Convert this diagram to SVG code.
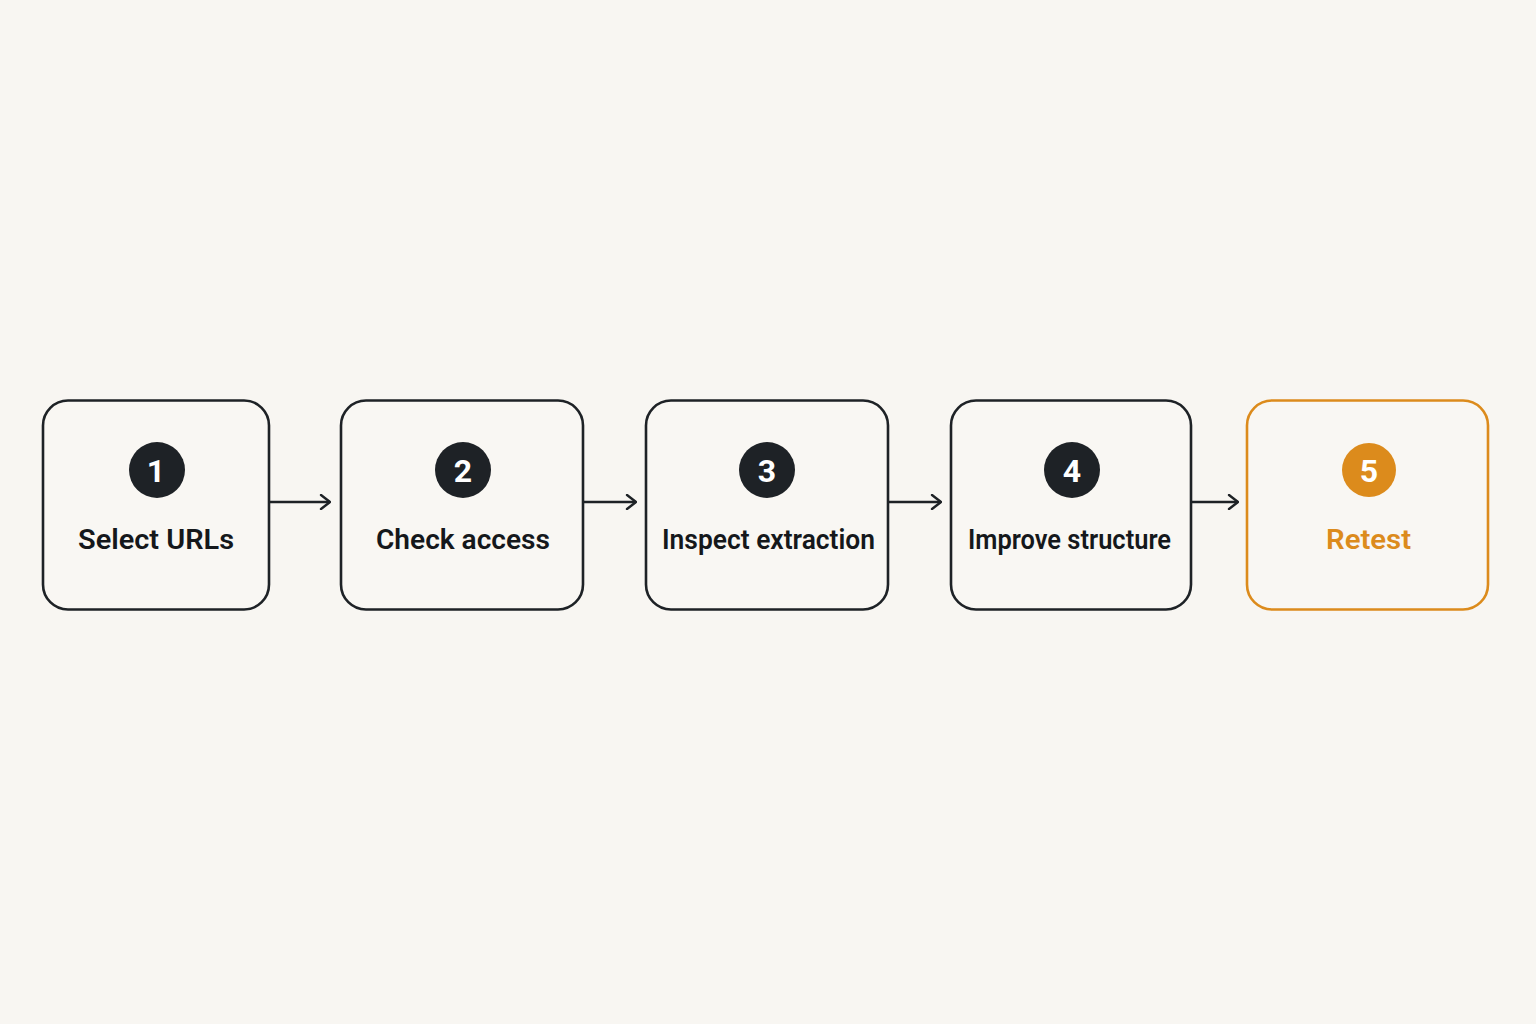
<svg xmlns="http://www.w3.org/2000/svg" width="1536" height="1024" viewBox="0 0 1536 1024">
<style>
.box{fill:#F9F7F3;stroke:#1E2226;stroke-width:2.6}
.box.hl{stroke:#DC8B1C}
.badge{fill:#1E2226}
.badge.hl{fill:#DC8B1C}
.num{font-family:Roboto,"Liberation Sans",sans-serif;font-weight:700;font-size:32px;fill:#FFFFFF;text-anchor:middle}
.lbl{font-family:Roboto,"Liberation Sans",sans-serif;font-weight:600;font-size:28px;fill:#15181B;text-anchor:middle}
.lbl.hl{fill:#DC8B1C}
.conn{stroke:#1E2226;stroke-width:2.4;fill:none}
</style>
<defs>
<marker id="arr" viewBox="0 0 12 16" refX="11" refY="8" markerWidth="12" markerHeight="16" markerUnits="userSpaceOnUse" orient="auto">
<path d="M2,1 L11,8 L2,15" fill="none" stroke="#1E2226" stroke-width="2.4" stroke-linecap="round" stroke-linejoin="round"/>
</marker>
</defs>
<rect width="1536" height="1024" fill="#F8F6F2"/>
<g id="connectors">
<line class="conn" x1="270" y1="502" x2="330" y2="502" marker-end="url(#arr)"/>
<line class="conn" x1="583" y1="502" x2="636" y2="502" marker-end="url(#arr)"/>
<line class="conn" x1="889" y1="502" x2="941" y2="502" marker-end="url(#arr)"/>
<line class="conn" x1="1191" y1="502" x2="1238" y2="502" marker-end="url(#arr)"/>
</g>
<g id="step1">
<rect class="box" x="43" y="400.5" width="226" height="209" rx="25"/>
<circle class="badge" cx="157" cy="470" r="28"/>
<text class="num" x="156" y="482">1</text>
<text class="lbl" x="156" y="549" textLength="156" lengthAdjust="spacingAndGlyphs">Select URLs</text>
</g>
<g id="step2">
<rect class="box" x="341" y="400.5" width="242" height="209" rx="25"/>
<circle class="badge" cx="463" cy="470" r="28"/>
<text class="num" x="463" y="482">2</text>
<text class="lbl" x="463" y="549" textLength="174" lengthAdjust="spacingAndGlyphs">Check access</text>
</g>
<g id="step3">
<rect class="box" x="646" y="400.5" width="242" height="209" rx="25"/>
<circle class="badge" cx="767" cy="470" r="28"/>
<text class="num" x="767" y="482">3</text>
<text class="lbl" x="768.5" y="549" textLength="213" lengthAdjust="spacingAndGlyphs">Inspect extraction</text>
</g>
<g id="step4">
<rect class="box" x="951" y="400.5" width="240" height="209" rx="25"/>
<circle class="badge" cx="1072" cy="470" r="28"/>
<text class="num" x="1072" y="482">4</text>
<text class="lbl" x="1069.5" y="549" textLength="203" lengthAdjust="spacingAndGlyphs">Improve structure</text>
</g>
<g id="step5">
<rect class="box hl" x="1247" y="400.5" width="241" height="209" rx="25"/>
<circle class="badge hl" cx="1369" cy="470" r="27"/>
<text class="num" x="1369" y="482">5</text>
<text class="lbl hl" x="1368.5" y="549" textLength="85" lengthAdjust="spacingAndGlyphs">Retest</text>
</g>
</svg>
